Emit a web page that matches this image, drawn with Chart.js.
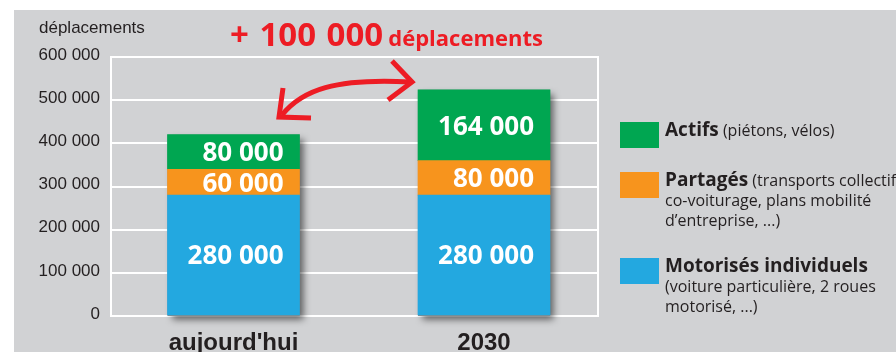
<!DOCTYPE html>
<html lang="fr">
<head>
<meta charset="utf-8">
<script src="https://cdn.jsdelivr.net/npm/chart.js@4/dist/chart.umd.min.js"></script>
<style>
  html, body { margin: 0; padding: 0; background: #fff; }
  #wrap { position: relative; width: 896px; height: 352px; overflow: hidden; }
  #chart { position: absolute; left: 0; top: 0; }
  .txt { position: absolute; color: #231f20; white-space: nowrap; }
  #unit { left: 39px; top: 18px; font: 17px "Liberation Sans", Arial, sans-serif; }
  #headline { left: 230px; top: 11px; color: #ed1c24; font-family: "Open Sans", sans-serif; font-weight: 700; }
  #headline .big { font-size: 33px; word-spacing: 2px; }
  #headline .small { font-size: 22px; margin-left: 5px; }
  .leg { position: absolute; left: 620px; font-family: "Open Sans", sans-serif; color: #231f20; }
  .leg .sw { position: absolute; left: 0; top: 0; width: 39px; height: 26px; }
  .leg .lbl { position: absolute; left: 45px; top: -3px; font-size: 16px; line-height: 20px; white-space: nowrap; }
  .leg .lbl b { font-size: 19px; }
</style>
</head>
<body>
<div id="wrap">
  <canvas id="chart" width="896" height="352"></canvas>
  <div id="unit" class="txt">déplacements</div>
  <div id="headline" class="txt"><span class="big">+ 100 000</span><span class="small">déplacements</span></div>
  <div id="legend"></div>
</div>
<script>
const periods    = ["aujourd'hui", '2030'];
const motorises  = [280000, 280000];
const partages   = [60000, 80000];
const actifs     = [80000, 164000];
const yTicks     = [0, 100000, 200000, 300000, 400000, 500000, 600000];

const series = [
  { name: 'Motorisés individuels', note: ['(voiture particulière, 2 roues', 'motorisé, ...)'], values: motorises, color: '#23a8e0', top: 258, inline: false },
  { name: 'Partagés', note: ['(transports collectifs,', 'co-voiturage, plans mobilité', 'd’entreprise, ...)'], values: partages, color: '#f7941d', top: 172, inline: true },
  { name: 'Actifs', note: ['(piétons, vélos)'], values: actifs, color: '#00a651', top: 122, inline: true }
];

const fmt = v => String(v).replace(/\B(?=(\d{3})+(?!\d))/g, ' ');

// legend on the right, built from the series
document.getElementById('legend').innerHTML = series.slice().reverse().map(s => {
  const first = s.inline ? `<b>${s.name}</b> ${s.note[0]}` : `<b>${s.name}</b>`;
  const rest = s.inline ? s.note.slice(1) : s.note;
  return `<div class="leg" style="top:${s.top}px">
    <div class="sw" style="background:${s.color}"></div>
    <div class="lbl">${[first, ...rest].join('<br>')}</div></div>`;
}).join('');

const bg = {
  id: 'bg',
  beforeDraw(chart) {
    const ctx = chart.ctx;
    ctx.save();
    ctx.fillStyle = '#d1d2d4';
    ctx.fillRect(14, 10, chart.width - 14, chart.height - 10);
    ctx.restore();
  }
};

// right frame line + drop shadow under each stacked bar
const frame = {
  id: 'frame',
  beforeDatasetsDraw(chart) {
    const { ctx, chartArea: a, scales: { y } } = chart;
    ctx.save();
    ctx.strokeStyle = '#fff';
    ctx.lineWidth = 2;
    ctx.beginPath();
    ctx.moveTo(a.right, a.top - 1);
    ctx.lineTo(a.right, a.bottom + 1);
    ctx.stroke();
    const base = chart.getDatasetMeta(0).data;
    base.forEach((bar, i) => {
      const total = series.reduce((sum, s) => sum + s.values[i], 0);
      const top = y.getPixelForValue(total);
      ctx.shadowColor = 'rgba(0,0,0,0.55)';
      ctx.shadowBlur = 7;
      ctx.shadowOffsetX = 4;
      ctx.shadowOffsetY = 4;
      ctx.fillStyle = '#888';
      ctx.fillRect(bar.x - bar.width / 2, top, bar.width, y.getPixelForValue(0) - top);
    });
    ctx.restore();
  }
};

const valueLabels = {
  id: 'valueLabels',
  afterDatasetsDraw(chart) {
    const ctx = chart.ctx;
    ctx.save();
    ctx.fillStyle = '#fff';
    ctx.font = 'bold 26px "Open Sans", sans-serif';
    ctx.textAlign = 'right';
    ctx.textBaseline = 'middle';
    chart.data.datasets.forEach((ds, di) => {
      chart.getDatasetMeta(di).data.forEach((bar, i) => {
        ctx.fillText(fmt(ds.data[i].y), bar.x + bar.width / 2 - 16, (bar.y + bar.base) / 2 + 2);
      });
    });
    ctx.restore();
  }
};

// red double arrow between the two totals
const arrow = {
  id: 'arrow',
  afterDraw(chart) {
    const ctx = chart.ctx;
    ctx.save();
    ctx.strokeStyle = '#ed1c24';
    ctx.lineWidth = 5;
    ctx.lineCap = 'butt';
    ctx.lineJoin = 'miter';
    ctx.beginPath();
    ctx.moveTo(282, 115);
    ctx.bezierCurveTo(302, 90, 335, 78, 410, 82);
    ctx.stroke();
    ctx.beginPath();
    ctx.moveTo(283, 88);
    ctx.lineTo(279, 117);
    ctx.lineTo(311, 118);
    ctx.stroke();
    ctx.beginPath();
    ctx.moveTo(392, 61);
    ctx.lineTo(412, 82);
    ctx.lineTo(388, 100);
    ctx.stroke();
    ctx.restore();
  }
};

new Chart(document.getElementById('chart'), {
  type: 'bar',
  data: {
    datasets: series.map(s => ({
      label: s.name,
      data: s.values.map((v, i) => ({ x: i, y: v })),
      backgroundColor: s.color,
      borderWidth: 0,
      barThickness: 132
    }))
  },
  options: {
    responsive: false,
    animation: false,
    layout: { padding: { left: 0, top: 57, right: 298, bottom: 0 } },
    plugins: { legend: { display: false }, tooltip: { enabled: false } },
    scales: {
      x: {
        type: 'linear',
        offset: false,
        stacked: true,
        min: -0.489,
        max: 1.455,
        afterFit: s => { s.height = 36; },
        grid: { display: false, offset: false },
        border: { display: false },
        ticks: {
          stepSize: 1,
          includeBounds: false,
          padding: 5,
          color: '#231f20',
          font: { family: 'Liberation Sans', size: 24, weight: 'bold' },
          callback: v => periods[v] ?? ''
        }
      },
      y: {
        stacked: true,
        min: yTicks[0],
        max: yTicks[yTicks.length - 1],
        afterFit: s => { s.width = 111; },
        afterBuildTicks: s => { s.ticks = yTicks.map(v => ({ value: v })); },
        grid: { color: '#fff', lineWidth: 2, drawTicks: false },
        border: { color: '#fff', width: 2 },
        ticks: {
          padding: 11,
          labelOffset: -2,
          color: '#231f20',
          font: { family: 'Liberation Sans', size: 17 },
          callback: v => fmt(v)
        }
      }
    }
  },
  plugins: [bg, frame, valueLabels, arrow]
});
</script>
</body>
</html>
